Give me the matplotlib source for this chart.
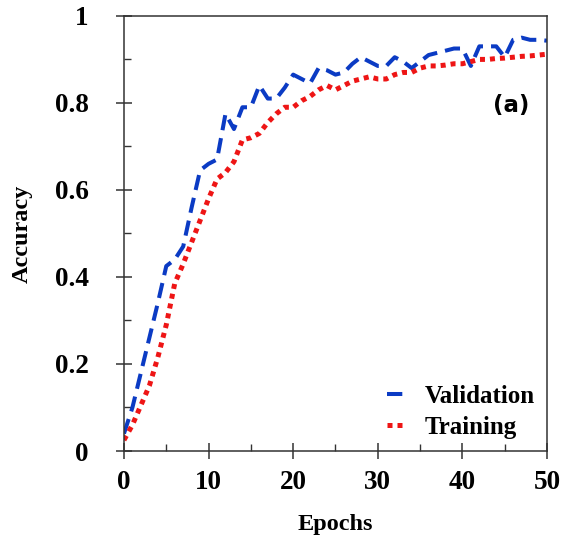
import numpy as np
import matplotlib
matplotlib.use("Agg")
import matplotlib.pyplot as plt
from matplotlib.ticker import MultipleLocator

# accuracy per epoch
epochs = np.arange(0, 51)
validation = [0.04, 0.10, 0.18, 0.26, 0.34, 0.425, 0.44, 0.47, 0.56, 0.645,
              0.66, 0.67, 0.775, 0.74, 0.79, 0.79, 0.84, 0.81, 0.81, 0.835,
              0.865, 0.855, 0.845, 0.88, 0.875, 0.865, 0.87, 0.89, 0.905, 0.895,
              0.885, 0.885, 0.905, 0.895, 0.88, 0.895, 0.91, 0.915, 0.92, 0.925,
              0.925, 0.885, 0.93, 0.93, 0.93, 0.905, 0.945, 0.95, 0.945, 0.945,
              0.943]
training = [0.025, 0.06, 0.105, 0.15, 0.215, 0.29, 0.385, 0.43, 0.48, 0.53,
            0.58, 0.625, 0.64, 0.665, 0.715, 0.72, 0.73, 0.755, 0.775, 0.79,
            0.79, 0.805, 0.815, 0.83, 0.84, 0.83, 0.84, 0.85, 0.855, 0.86,
            0.855, 0.855, 0.865, 0.87, 0.87, 0.88, 0.885, 0.885, 0.887, 0.89,
            0.89, 0.895, 0.9, 0.9, 0.902, 0.903, 0.905, 0.907, 0.908, 0.91,
            0.912]
yticks = [0, 0.2, 0.4, 0.6, 0.8, 1.0]
ytick_labels = ["0", "0.2", "0.4", "0.6", "0.8", "1"]

serif = "Liberation Serif"

fig = plt.figure(figsize=(5.63, 5.48), dpi=100)
ax = fig.add_axes([0.2202, 0.177, 0.7514, 0.794])

ax.plot(epochs, validation, color="#0b3bc4", lw=2.9, dashes=(3.8, 2.0),
        label="Validation")
ax.plot(epochs, training, color="#ee1515", lw=3.6, dashes=(1.0, 1.0),
        label="Training")

ax.set_xlim(0, 50)
ax.set_ylim(0, 1)
ax.xaxis.set_major_locator(MultipleLocator(10))
ax.xaxis.set_minor_locator(MultipleLocator(5))
ax.yaxis.set_minor_locator(MultipleLocator(0.1))
ax.set_yticks(yticks)
ax.set_yticklabels(ytick_labels)

ax.tick_params(which="major", direction="inout", length=11, width=1.1,
               color="#333333")
ax.tick_params(which="minor", direction="in", length=5, width=1.0,
               color="#333333")
ax.tick_params(axis="y", which="major", pad=20)
ax.tick_params(axis="x", which="major", pad=8)
for lab in ax.get_xticklabels() + ax.get_yticklabels():
    lab.set_fontfamily(serif)
    lab.set_fontweight("bold")
    lab.set_fontsize(19.5)

for sp in ax.spines.values():
    sp.set_linewidth(1.1)
    sp.set_color("#333333")

ax.set_xlabel("Epochs", fontfamily=serif, fontweight="bold", fontsize=17.5,
              labelpad=14)
ax.set_ylabel("Accuracy", fontfamily=serif, fontweight="bold", fontsize=17.5,
              labelpad=16)

ax.text(0.958, 0.795, "(a)", transform=ax.transAxes, ha="right", va="center",
        fontfamily="DejaVu Sans", fontweight="bold", fontsize=16.5)

ax.legend(loc="lower right", frameon=False, handlelength=0.75,
          handletextpad=0.75, labelspacing=0.3, borderaxespad=0.1,
          prop={"family": serif, "weight": "bold", "size": 18})

fig.savefig("out.png", dpi=100)
